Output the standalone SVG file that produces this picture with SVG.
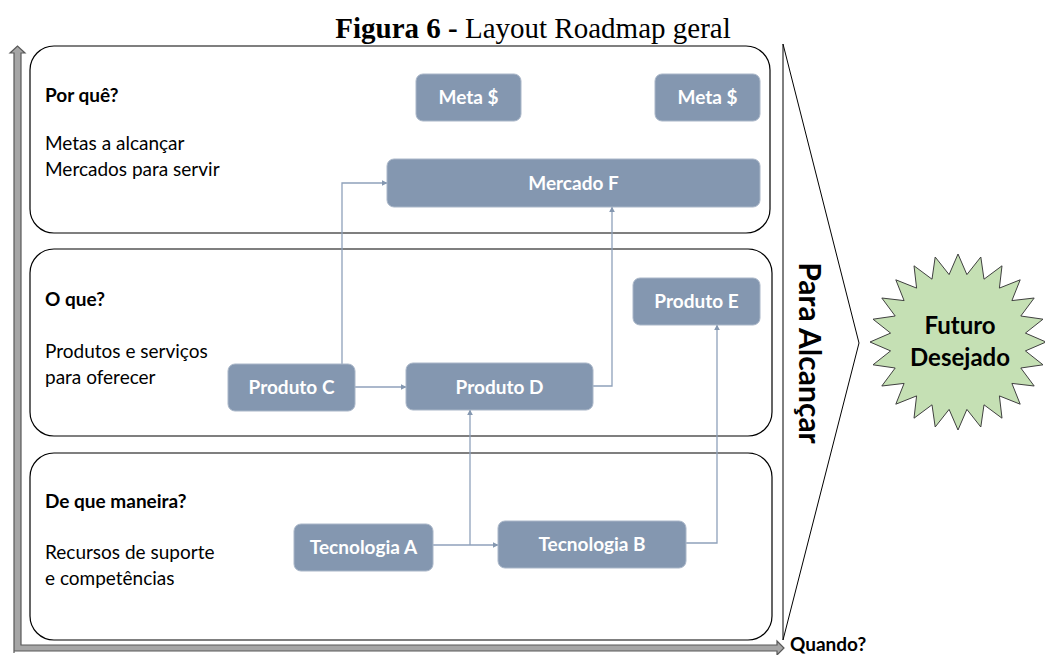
<svg xmlns="http://www.w3.org/2000/svg" width="1045" height="655" viewBox="0 0 1045 655">
<defs>
<style>
.title{font-family:"Liberation Serif",serif;font-size:29px;fill:#000}
.lbl{font-family:Lato,"Open Sans",sans-serif;font-size:19px;fill:#000}
.lblb{font-family:Lato,"Open Sans",sans-serif;font-size:19px;font-weight:bold;fill:#000}
.panel{fill:#fff;stroke:#000;stroke-width:1.2}
.node rect{fill:#8497b0;stroke:#a9b6c8;stroke-width:1}
.node text{font-family:Lato,"Open Sans",sans-serif;font-size:19px;font-weight:bold;fill:#fff;text-anchor:middle}
.conn{fill:none;stroke:#8fa1bb;stroke-width:1.3;marker-end:url(#ah)}
.axis{fill:#a6a6a6;stroke:#595959;stroke-width:1.2}
.star-t{font-family:Lato,"Open Sans",sans-serif;font-size:24px;font-weight:bold;fill:#000;text-anchor:middle}
</style>
<marker id="ah" viewBox="0 0 10 10" refX="9" refY="5" markerWidth="6" markerHeight="6" orient="auto" markerUnits="userSpaceOnUse">
<path d="M0,0 L10,5 L0,10 z" fill="#8497b0"/>
</marker>
</defs>
<rect width="1045" height="655" fill="#fff"/>
<text class="title" x="533" y="38" text-anchor="middle"><tspan font-weight="bold">Figura 6 - </tspan>Layout Roadmap geral</text>

<g id="axes">
<polygon class="axis" points="14,653 14,53 10,53 17.5,46 25,53 21,53 21,645 777,645 777,641 784,648 777,655 777,651 14,651"/>
</g>

<g id="panels">
<rect class="panel" x="30" y="46" width="740" height="187" rx="24"/>
<rect class="panel" x="30" y="249" width="742" height="187" rx="24"/>
<rect class="panel" x="30" y="453" width="742" height="187" rx="24"/>
</g>

<g id="arrow-para">
<polygon points="783,44 859,343 783,640" fill="#fff" stroke="#000" stroke-width="1"/>
<text transform="translate(799,353) rotate(90)" text-anchor="middle" style="font-family:Lato,'Open Sans',sans-serif;font-size:30px;font-weight:bold">Para Alcançar</text>
</g>

<g id="labels">
<text class="lblb" x="45" y="102">Por quê?</text>
<text class="lbl" x="45" y="150">Metas a alcançar</text>
<text class="lbl" x="45" y="176">Mercados para servir</text>
<text class="lblb" x="45" y="306">O que?</text>
<text class="lbl" x="45" y="358">Produtos e serviços</text>
<text class="lbl" x="45" y="384">para oferecer</text>
<text class="lblb" x="45" y="508">De que maneira?</text>
<text class="lbl" x="45" y="559">Recursos de suporte</text>
<text class="lbl" x="45" y="585">e competências</text>
<text class="lblb" x="790" y="651">Quando?</text>
</g>

<g id="connectors">
<path class="conn" d="M342,364 V183 H387"/>
<path class="conn" d="M355,387 H406"/>
<path class="conn" d="M593,386 H612 V207"/>
<path class="conn" d="M433,545 H498"/>
<path class="conn" d="M470,545 V410"/>
<path class="conn" d="M686,543 H717 V325"/>
</g>

<g id="meta1" class="node"><rect x="416" y="74" width="105" height="47" rx="7"/><text x="468.5" y="104">Meta $</text></g>
<g id="meta2" class="node"><rect x="655" y="74" width="105" height="47" rx="7"/><text x="707.5" y="104">Meta $</text></g>
<g id="mercadoF" class="node"><rect x="387" y="159" width="373" height="48" rx="7"/><text x="573.5" y="190">Mercado F</text></g>
<g id="produtoE" class="node"><rect x="633" y="278" width="127" height="47" rx="7"/><text x="696.5" y="308">Produto E</text></g>
<g id="produtoC" class="node"><rect x="228" y="364" width="127" height="47" rx="7"/><text x="291.5" y="394">Produto C</text></g>
<g id="produtoD" class="node"><rect x="406" y="363" width="187" height="47" rx="7"/><text x="499.5" y="394">Produto D</text></g>
<g id="tecA" class="node"><rect x="294" y="524" width="139" height="47" rx="7"/><text x="363.5" y="554">Tecnologia A</text></g>
<g id="tecB" class="node"><rect x="498" y="521" width="188" height="47" rx="7"/><text x="592" y="551">Tecnologia B</text></g>

<g id="futuro">
<polygon transform="translate(1,2)" fill="#c5e0b4" stroke="#404040" stroke-width="1" points="957,252 965.9,272.6 979.8,255 983,277.2 1001,263.8 998.4,286.1 1019.2,277.8 1010.9,298.6 1033.2,296 1019.8,314 1042,317.2 1024.4,331.1 1045,340 1024.4,348.9 1042,362.8 1019.8,366 1033.2,384 1010.9,381.4 1019.2,402.2 998.4,393.9 1001,416.2 983,402.8 979.8,425 965.9,407.4 957,428 948.1,407.4 934.2,425 931,402.8 913,416.2 915.6,393.9 894.8,402.2 903.1,381.4 880.8,384 894.2,366 872,362.8 889.6,348.9 869,340 889.6,331.1 872,317.2 894.2,314 880.8,296 903.1,298.6 894.8,277.8 915.6,286.1 913,263.8 931,277.2 934.2,255 948.1,272.6"/>
<text class="star-t" x="960" y="334">Futuro</text>
<text class="star-t" x="960" y="366">Desejado</text>
</g>
</svg>
